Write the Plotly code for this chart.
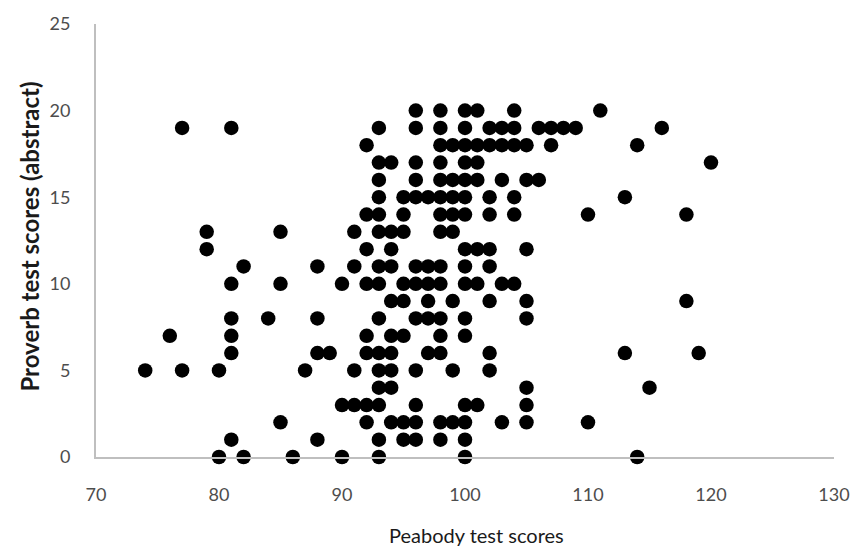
import plotly.graph_objects as go

# Proverb score (abstract) -> Peabody scores of the children with that score
proverb_levels = [20, 19, 18, 17, 16, 15, 14, 13, 12, 11, 10, 9, 8, 7, 6, 5, 4, 3, 2, 1, 0]
peabody_by_level = [
    [96, 98, 100, 101, 104, 111],
    [77, 81, 93, 96, 98, 100, 102, 103, 104, 106, 107, 108, 109, 116],
    [92, 98, 99, 100, 101, 102, 103, 104, 105, 107, 114],
    [93, 94, 96, 98, 100, 101, 120],
    [93, 96, 98, 99, 100, 101, 103, 105, 106],
    [93, 95, 96, 97, 98, 99, 100, 102, 104, 113],
    [92, 93, 95, 98, 99, 100, 102, 104, 110, 118],
    [79, 85, 91, 93, 94, 95, 98, 99],
    [79, 92, 94, 100, 101, 102, 105],
    [82, 88, 91, 93, 94, 96, 97, 98, 100, 102],
    [81, 85, 90, 92, 93, 95, 96, 97, 98, 100, 101, 103, 104],
    [94, 95, 97, 99, 102, 105, 118],
    [81, 84, 88, 93, 96, 97, 98, 100, 105],
    [76, 81, 92, 94, 95, 98, 100],
    [81, 88, 89, 92, 93, 94, 97, 98, 102, 113, 119],
    [74, 77, 80, 87, 91, 93, 94, 96, 99, 102],
    [93, 94, 105, 115],
    [90, 91, 92, 93, 96, 100, 101, 105],
    [85, 92, 94, 95, 96, 98, 99, 100, 103, 105, 110],
    [81, 88, 93, 95, 96, 98, 100],
    [80, 82, 86, 90, 93, 100, 114],
]

x_ticks = [70, 80, 90, 100, 110, 120, 130]
y_ticks = [0, 5, 10, 15, 20, 25]
x_title = "Peabody test scores"
y_title = "Proverb test scores (abstract)"

peabody = [p for row in peabody_by_level for p in row]
proverb = [lvl for lvl, row in zip(proverb_levels, peabody_by_level) for _ in row]

fig = go.Figure(
    go.Scatter(
        x=peabody,
        y=proverb,
        mode="markers",
        marker=dict(color="black", size=14.5, line=dict(width=0)),
        cliponaxis=False,
        showlegend=False,
    )
)

axis_line = "#bfbfbf"
family = "Lato, Open Sans, sans-serif"
tick_font = dict(family=family, size=18, color="#4d4d4d")

common_axis = dict(
    showgrid=False,
    zeroline=False,
    showline=True,
    linecolor=axis_line,
    linewidth=2,
    ticks="",
    tickfont=tick_font,
)

fig.update_layout(
    width=862,
    height=552,
    margin=dict(l=96, r=22, t=22, b=95),
    paper_bgcolor="white",
    plot_bgcolor="white",
    xaxis=dict(range=[70, 130], tickvals=x_ticks, ticklabelstandoff=20, **common_axis),
    yaxis=dict(range=[0, 25], tickvals=y_ticks, ticklabelstandoff=20, **common_axis),
    annotations=[
        dict(
            text=x_title,
            xref="paper", yref="paper",
            x=0.516, y=-0.179,
            xanchor="center", yanchor="middle",
            showarrow=False,
            font=dict(family=family, size=20, color="#1a1a1a"),
        ),
        dict(
            text=f"<b>{y_title}</b>",
            xref="paper", yref="paper",
            x=-0.0914, y=0.508,
            xanchor="center", yanchor="middle",
            textangle=-90,
            showarrow=False,
            font=dict(family=family, size=24, color="#1a1a1a"),
        ),
    ],
)

fig.write_html("out.html")
